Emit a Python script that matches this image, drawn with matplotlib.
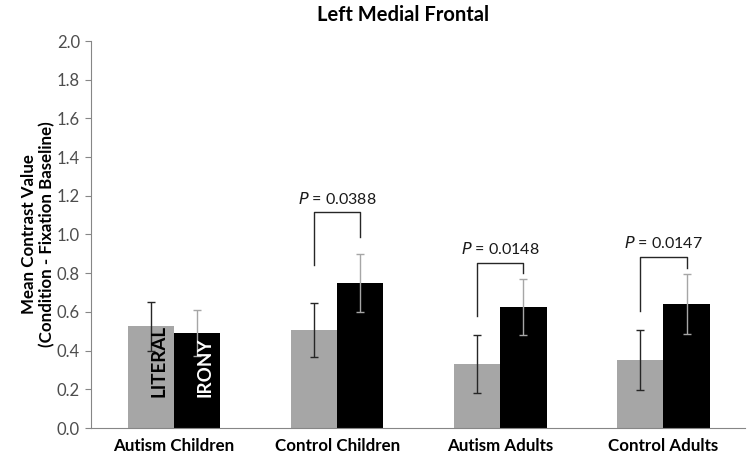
import matplotlib
matplotlib.use("Agg")
import matplotlib.pyplot as plt
import numpy as np

plt.rcParams['font.family'] = ['Lato', 'DejaVu Sans']

groups = ["Autism Children", "Control Children", "Autism Adults", "Control Adults"]
literal = [0.525, 0.505, 0.33, 0.35]
literal_err = [0.125, 0.14, 0.15, 0.155]
irony = [0.49, 0.75, 0.625, 0.64]
irony_err = [0.12, 0.15, 0.145, 0.155]
p_labels = [None, "0.0388", "0.0148", "0.0147"]
# bracket: (left leg bottom, top, right leg bottom, text y)
brackets = [None, (0.84, 1.115, 0.985, 1.14), (0.58, 0.853, 0.80, 0.885), (0.605, 0.883, 0.827, 0.915)]
yticks = [0.0, 0.2, 0.4, 0.6, 0.8, 1.0, 1.2, 1.4, 1.6, 1.8, 2.0]

fig = plt.figure(figsize=(7.51, 4.65), dpi=100)
ax = fig.add_axes([91/751, 1-428/465, (745-91)/751, (428-41)/465])

x = np.arange(len(groups))
w = 0.283
ax.bar(x - w/2, literal, w, color="#a6a6a6", zorder=2)
ax.bar(x + w/2, irony, w, color="#000000", zorder=2)
ax.errorbar(x - w/2, literal, yerr=literal_err, fmt="none", ecolor="#262626",
            elinewidth=1, capsize=3, capthick=1, zorder=3)
ax.errorbar(x + w/2, irony, yerr=irony_err, fmt="none", ecolor="#a6a6a6",
            elinewidth=1, capsize=3, capthick=1, zorder=3)

for i, (pl, br) in enumerate(zip(p_labels, brackets)):
    if pl is None:
        continue
    lb, top, rb, ty = br
    ax.plot([x[i]-w/2, x[i]-w/2, x[i]+w/2, x[i]+w/2], [lb, top, top, rb],
            color="#262626", lw=1, zorder=3)
    ax.text(x[i], ty, r"$\it{P}$ = " + pl, ha="center", va="bottom", fontsize=11.5, color="#1a1a1a")

ax.text(x[0]-w/2 + 0.05, 0.16, "LITERAL", rotation=90, ha="center", va="bottom",
        fontsize=13.5, fontweight="bold", color="#000000", zorder=4)
ax.text(x[0]+w/2 + 0.05, 0.16, "IRONY", rotation=90, ha="center", va="bottom",
        fontsize=13.5, fontweight="bold", color="#ffffff", zorder=4)

ax.set_xlim(-0.51, 3.5)
ax.set_ylim(0, 2.0)
ax.set_yticks(yticks)
ax.set_yticklabels([f"{v:.1f}" for v in yticks], fontsize=12, color="#4d4d4d")
ax.set_xticks(x)
ax.set_xticklabels(groups, fontsize=12.2, fontweight="bold", color="#000000")
ax.tick_params(axis="x", length=0, pad=7)
ax.tick_params(axis="y", length=4, color="#868686", pad=4)
for s in ["top", "right"]:
    ax.spines[s].set_visible(False)
for s in ["left", "bottom"]:
    ax.spines[s].set_color("#868686")
ax.set_ylabel("Mean Contrast Value\n(Condition - Fixation Baseline)", fontsize=12.2,
              fontweight="bold", linespacing=1.15)
ax.yaxis.set_label_coords(-36/654 - 0.0, 0.5)
ax.yaxis.label.set_horizontalalignment("center")
fig.text(403/751, 1-15/465, "Left Medial Frontal", ha="center", va="center",
         fontsize=14.5, fontweight="bold")

fig.savefig("out.png", dpi=100)
